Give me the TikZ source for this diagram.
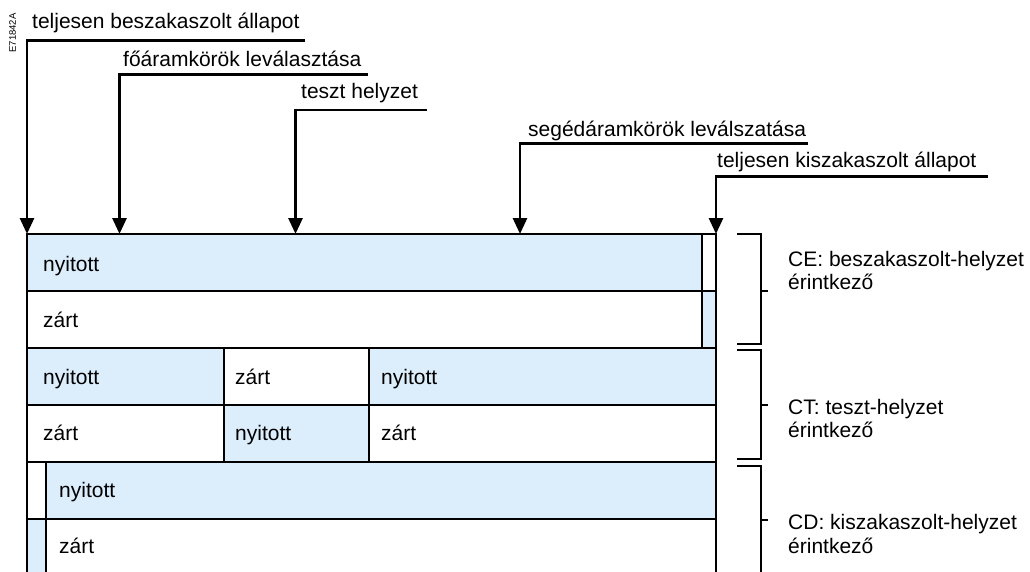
\documentclass[tikz,border=0pt]{standalone}
\usepackage{fontspec}
\setmainfont{Liberation Sans}
\usetikzlibrary{arrows.meta}
\definecolor{cblue}{RGB}{220,237,251}
\begin{document}
\begin{tikzpicture}[x=1pt,y=-1pt,
  ln/.style={line width=2.8pt, line join=miter},
  cellbox/.style={draw, line width=2.8pt, inner sep=0pt, outer sep=0pt, anchor=north west, minimum height=57pt},
  bluecell/.style={cellbox, fill=cblue},
  txt/.style={inner sep=0pt, anchor=base west, font=\fontsize{21}{22}\selectfont},
  arr/.style={line width=2.8pt, line join=miter, -{Triangle[length=16pt,width=14pt]}}]
\useasboundingbox (0,0) rectangle (1030,572);

% code
\node[rotate=90, inner sep=0pt, font=\fontsize{9.5}{10}\selectfont] (code) at (12.5,33) {E71842A};

% table cells
\node[bluecell, minimum width=675pt] (r1a) at (27,234) {};
\node[cellbox, minimum width=14pt] (r1b) at (702,234) {};
\node[cellbox, minimum width=675pt] (r2a) at (27,291) {};
\node[bluecell, minimum width=14pt] (r2b) at (702,291) {};
\node[bluecell, minimum width=197pt] (r3a) at (27,348) {};
\node[cellbox, minimum width=145pt] (r3b) at (224,348) {};
\node[bluecell, minimum width=347pt] (r3c) at (369,348) {};
\node[cellbox, minimum width=197pt] (r4a) at (27,405) {};
\node[bluecell, minimum width=145pt] (r4b) at (224,405) {};
\node[cellbox, minimum width=347pt] (r4c) at (369,405) {};
\node[cellbox, minimum width=19pt] (r5a) at (27,462) {};
\node[bluecell, minimum width=670pt] (r5b) at (46,462) {};
\node[bluecell, minimum width=19pt] (r6a) at (27,519) {};
\node[cellbox, minimum width=670pt] (r6b) at (46,519) {};

% cell texts
\node[txt] (t1) at (43,271) {nyitott};
\node[txt] (t2) at (43,327) {zárt};
\node[txt] (t3a) at (43,384) {nyitott};
\node[txt] (t3b) at (235,384) {zárt};
\node[txt] (t3c) at (381,384) {nyitott};
\node[txt] (t4a) at (43,440) {zárt};
\node[txt] (t4b) at (235,440) {nyitott};
\node[txt] (t4c) at (381,440) {zárt};
\node[txt] (t5) at (59,497) {nyitott};
\node[txt] (t6) at (59,553) {zárt};

% top labels
\node[txt] (L1) at (32,29) {teljesen beszakaszolt állapot};
\node[txt] (L2) at (123,66.5) {főáramkörök leválasztása};
\node[txt] (L3) at (301,98.5) {teszt helyzet};
\node[txt] (L4) at (528,137) {segédáramkörök leválszatása};
\node[txt] (L5) at (717,168) {teljesen kiszakaszolt állapot};

\coordinate (e1) at (305,40.5);
\coordinate (e2) at (368,74.5);
\coordinate (e3) at (427,110);
\coordinate (e4) at (808,143.5);
\coordinate (e5) at (988,176.5);
\coordinate (a1) at (27,234);
\coordinate (a2) at (119.5,234);
\coordinate (a3) at (295.5,234);
\coordinate (a4) at (520,234);
\coordinate (a5) at (716,234);

\draw[arr] (e1) -| (a1);
\draw[arr] (e2) -| (a2);
\draw[arr] (e3) -| (a3);
\draw[arr] (e4) -| (a4);
\draw[arr] (e5) -| (a5);

% brackets
\draw[ln] (737,234) -- (761,234) -- (761,344) -- (737,344);
\draw[ln] (761,291) -- (768,291);
\draw[ln] (737,350) -- (761,350) -- (761,459) -- (737,459);
\draw[ln] (761,405) -- (768,405);
\draw[ln] (737,466) -- (761,466) -- (761,580);
\draw[ln] (761,520) -- (768,520);

% bracket labels
\node[txt] (ce1) at (788,266.5) {CE: beszakaszolt-helyzet};
\node[txt] (ce2) at (788,289) {érintkező};
\node[txt] (ct1) at (788,414) {CT: teszt-helyzet};
\node[txt] (ct2) at (788,437) {érintkező};
\node[txt] (cd1) at (788,529.5) {CD: kiszakaszolt-helyzet};
\node[txt] (cd2) at (788,553) {érintkező};
\end{tikzpicture}
\end{document}
